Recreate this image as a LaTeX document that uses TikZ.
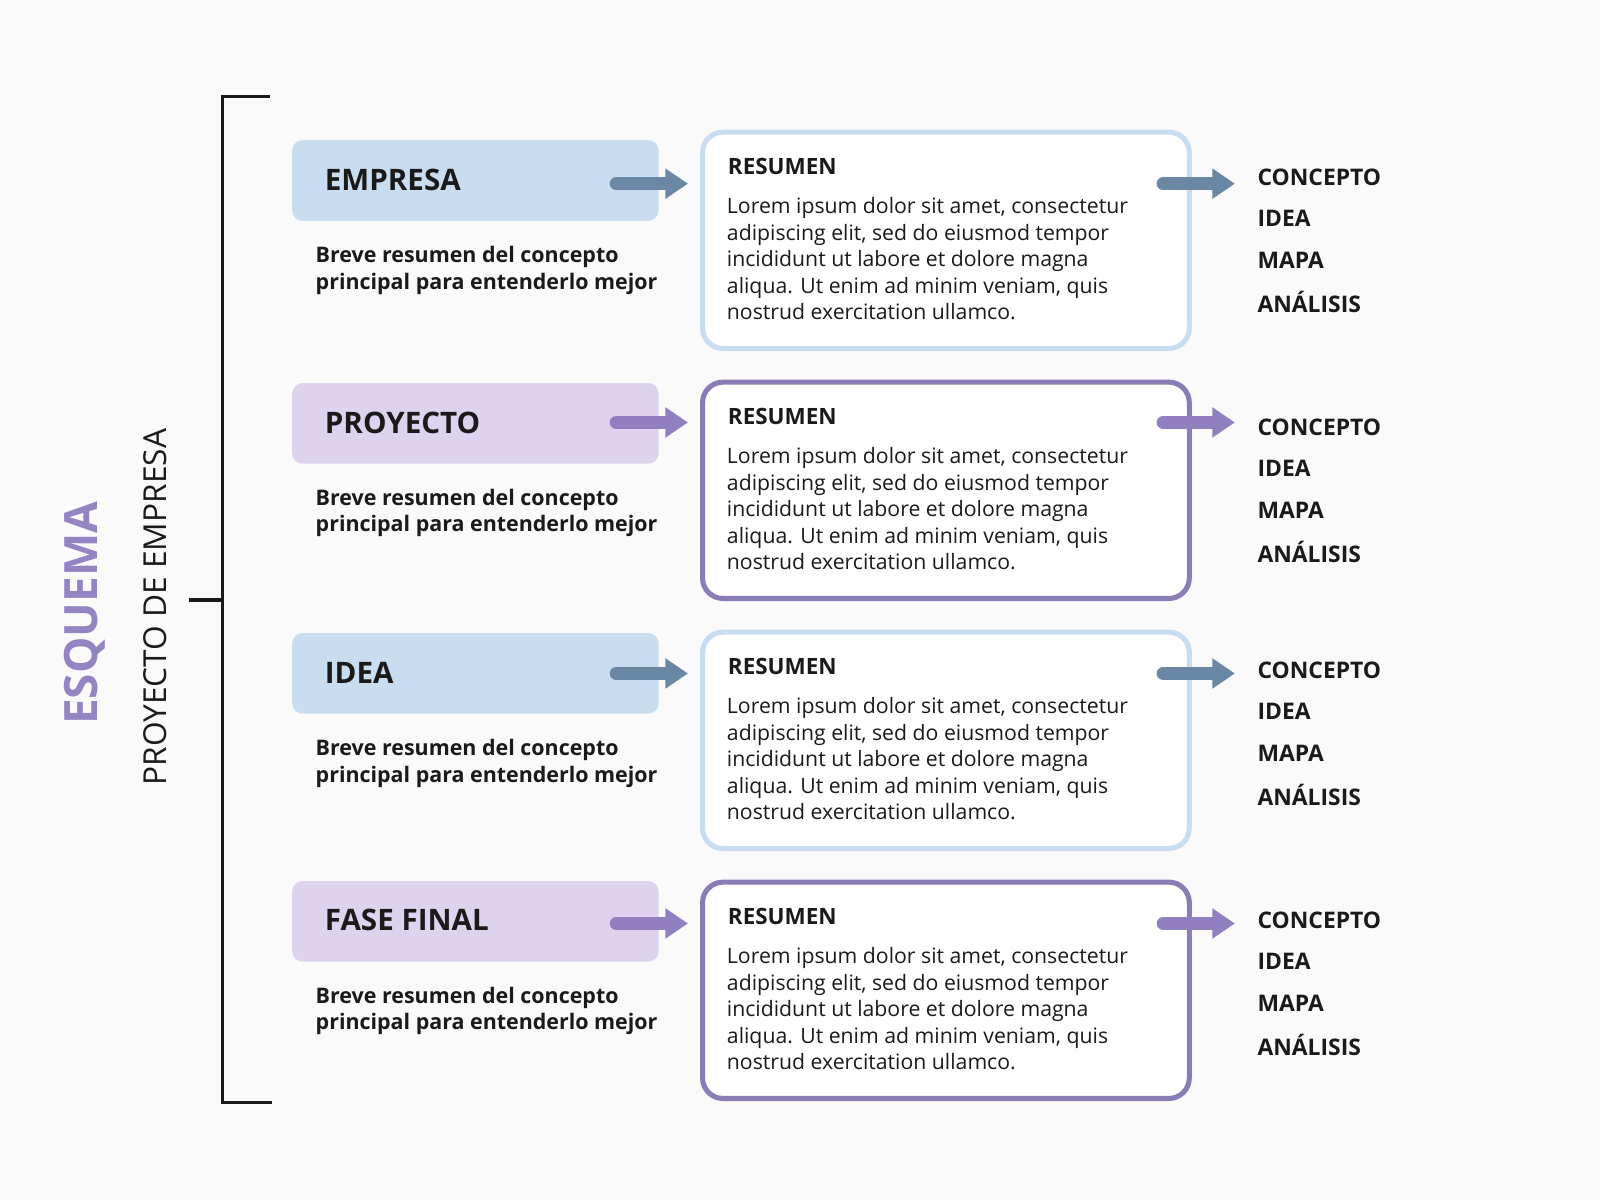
\documentclass[tikz,border=0pt]{standalone}
\usepackage{fontspec}
\setmainfont{Open Sans}
\definecolor{bg}{HTML}{FAFAFA}
\definecolor{lblue}{HTML}{C8DDF0}
\definecolor{lpurple}{HTML}{DDD3EF}
\definecolor{dpurple}{HTML}{8A7DB5}
\definecolor{ablue}{HTML}{6A88A3}
\definecolor{apurple}{HTML}{9080C0}
\definecolor{ink}{HTML}{1A1A1A}
\definecolor{title}{HTML}{9484C4}
\begin{document}
\begin{tikzpicture}[x=0.5pt,y=-0.5pt,
  tag/.style={rounded corners=5pt,minimum width=179.5pt,minimum height=39.5pt,anchor=north west,inner sep=0pt},
  tagtext/.style={anchor=west,font=\fontsize{14.5}{18}\selectfont\bfseries,text=ink,inner sep=0pt},
  sub/.style={anchor=north west,align=left,font=\fontsize{10.5}{13}\selectfont\bfseries,text=ink,inner sep=0pt},
  card/.style={rounded corners=10pt,line width=2.5pt,fill=white,minimum width=238.5pt,minimum height=106pt,anchor=north west,inner sep=0pt},
  body/.style={anchor=north west,align=left,font=\fontsize{10.4}{13}\selectfont,text=ink,inner sep=0pt},
  item/.style={anchor=west,font=\fontsize{11.2}{14}\selectfont\bfseries,text=ink,inner sep=0pt},
  arr/.style={line width=6.5pt,line cap=round},
  brk/.style={line width=1.5pt,ink}]
\fill[bg] (0,0) rectangle (1568,1176);
\useasboundingbox (0,0) rectangle (1568,1176);
% bracket
\coordinate (bt) at (265,95); \coordinate (btl) at (218,95);
\coordinate (bb) at (267,1080); \coordinate (bbl) at (218,1080);
\coordinate (bm) at (185,588); \coordinate (bml) at (218,588);
\draw[brk] (bt) -- (btl) -- (bbl) -- (bb);
\draw[brk] (bm) -- (bml);
\node[rotate=90,font=\fontsize{22.5}{26}\selectfont\bfseries,text=title,inner sep=0pt] (esq) at (83,601) {ESQUEMA};
\node[rotate=90,font=\fontsize{15.5}{18}\selectfont,text=ink,inner sep=0pt] (proy) at (152,595) {PROYECTO DE EMPRESA};
\foreach \i/\tt/\ty/\cy/\ay/\ly/\fc/\bc/\ac in {
  1/EMPRESA/137/127/180/174/lblue/lblue/ablue,
  2/PROYECTO/375/372/414/419/lpurple/dpurple/apurple,
  3/IDEA/620/617/660/657/lblue/lblue/ablue,
  4/FASE FINAL/863/862/905/902/lpurple/dpurple/apurple}{
  \node[tag,fill=\fc] (t\i) at (286,\ty) {};
  \node[tagtext] (tt\i) at (318,\ty+39) {\tt};
  \node[sub] (s\i) at (309,\ty+104) {Breve resumen del concepto\\principal para entenderlo mejor};
  \node[card,draw=\bc] (c\i) at (686,\cy) {};
  \node[anchor=west,font=\fontsize{11}{13}\selectfont\bfseries,text=ink,inner sep=0pt] (r\i) at (713,\cy+36) {RESUMEN};
  \node[body] (b\i) at (712,\cy+66) {Lorem ipsum dolor sit amet, consectetur\\adipiscing elit, sed do eiusmod tempor\\incididunt ut labore et dolore magna\\aliqua. Ut enim ad minim veniam, quis\\nostrud exercitation ullamco.};
  \coordinate (la\i) at (604,\ay); \coordinate (lb\i) at (652,\ay); \coordinate (lh\i) at (674,\ay);
  \coordinate (ra\i) at (1140,\ay); \coordinate (rb\i) at (1188,\ay); \coordinate (rh\i) at (1210,\ay);
  \draw[arr,\ac] (la\i) -- (lb\i);
  \fill[\ac] (lh\i) -- ([shift={(0,-15)}]lb\i) -- ([shift={(0,15)}]lb\i) -- cycle;
  \draw[arr,\ac] (ra\i) -- (rb\i);
  \fill[\ac] (rh\i) -- ([shift={(0,-15)}]rb\i) -- ([shift={(0,15)}]rb\i) -- cycle;
  \node[item] (i\i a) at (1232,\ly) {CONCEPTO};
  \node[item] (i\i b) at (1232,\ly+40) {IDEA};
  \node[item] (i\i c) at (1232,\ly+81) {MAPA};
  \node[item] (i\i d) at (1232,\ly+122) {ANÁLISIS};
}
\end{tikzpicture}
\end{document}
